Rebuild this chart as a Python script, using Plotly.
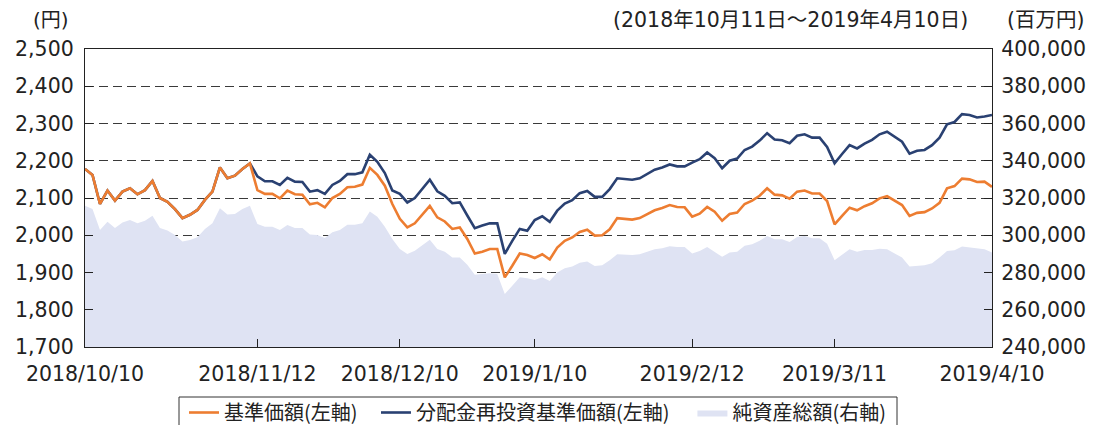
import pandas as pd
import plotly.graph_objects as go

# ---- data ----
holidays = ["2018-11-23", "2018-12-24", "2018-12-31", "2019-01-01", "2019-01-02",
            "2019-01-03", "2019-01-14", "2019-02-11", "2019-03-21"]
_days = pd.bdate_range("2018-10-10", "2019-04-10")
_days = [d for d in _days if d.strftime("%Y-%m-%d") not in holidays]
dates = [f"{d.year}/{d.month}/{d.day}" for d in _days]

tick_dates = ["2018/10/10", "2018/11/12", "2018/12/10", "2019/1/10",
              "2019/2/12", "2019/3/11", "2019/4/10"]

nav = [2178, 2162, 2084, 2120, 2093, 2117, 2126, 2110, 2121, 2146,
       2100, 2090, 2070, 2046, 2055, 2068, 2095, 2117, 2182, 2153,
       2160, 2178, 2193, 2121, 2111, 2111, 2099, 2120, 2110, 2109,
       2083, 2087, 2075, 2100, 2111, 2129, 2130, 2136, 2181, 2162,
       2133, 2084, 2044, 2021, 2032, 2055, 2079, 2048, 2037, 2017,
       2021, 1990, 1951, 1956, 1963, 1963, 1887, 1918, 1951, 1947,
       1939, 1949, 1935, 1967, 1985, 1994, 2009, 2015, 1999, 2000,
       2016, 2046, 2043, 2042, 2046, 2057, 2067, 2073, 2081, 2076,
       2075, 2050, 2058, 2076, 2063, 2039, 2057, 2061, 2084, 2093,
       2106, 2126, 2109, 2107, 2098, 2117, 2120, 2112, 2112, 2092,
       2029, 2052, 2074, 2067, 2078, 2086, 2099, 2105, 2092, 2081,
       2052, 2060, 2062, 2072, 2087, 2126, 2132, 2152, 2150, 2143,
       2144, 2130]

nav_reinvested = [2178, 2162, 2084, 2120, 2093, 2117, 2126, 2110, 2121, 2146,
                  2100, 2090, 2070, 2046, 2055, 2068, 2095, 2117, 2182, 2153,
                  2160, 2178, 2193, 2158, 2145, 2145, 2135, 2154, 2144, 2143,
                  2117, 2121, 2111, 2135, 2146, 2164, 2164, 2169, 2216, 2197,
                  2167, 2120, 2111, 2088, 2100, 2124, 2149, 2118, 2106, 2086,
                  2088, 2053, 2019, 2026, 2032, 2032, 1950, 1985, 2017, 2012,
                  2041, 2051, 2036, 2066, 2085, 2094, 2113, 2119, 2103, 2103,
                  2124, 2153, 2151, 2149, 2153, 2164, 2176, 2182, 2190, 2185,
                  2185, 2195, 2204, 2222, 2207, 2180, 2200, 2206, 2229, 2238,
                  2254, 2274, 2257, 2255, 2247, 2267, 2271, 2262, 2262, 2237,
                  2193, 2218, 2242, 2233, 2246, 2256, 2271, 2278, 2264, 2251,
                  2219, 2227, 2229, 2242, 2262, 2298, 2304, 2325, 2323, 2316,
                  2319, 2323]

net_assets = [315900, 314100, 302800, 307300, 303900, 306900, 308200, 306400, 307800, 310500,
              303900, 302500, 300100, 296600, 297400, 298900, 303400, 306400, 314500, 311100,
              311400, 314100, 315900, 306000, 304600, 304600, 302800, 305500, 303900, 303900,
              300400, 300200, 298500, 301600, 302800, 305700, 305700, 306400, 312700, 310000,
              304600, 298000, 292600, 289900, 291700, 294900, 297600, 292600, 291200, 288100,
              288100, 284200, 278800, 279200, 279600, 279200, 268500, 272900, 277400, 276900,
              276000, 277500, 275500, 280000, 282300, 283200, 285300, 285900, 283500, 283900,
              286600, 289800, 289400, 289400, 289800, 291200, 292500, 293000, 294100, 293700,
              293700, 290200, 291600, 293700, 291200, 288400, 290700, 291200, 294300, 295200,
              297000, 299600, 297900, 297900, 296400, 299100, 299600, 298400, 298400, 295500,
              286600, 289800, 292500, 291200, 292100, 292100, 292800, 292500, 290200, 288000,
              283200, 283500, 283900, 285000, 288000, 291600, 292000, 293900, 293400, 293000,
              292500, 290700]

names = ["基準価額(左軸)", "分配金再投資基準価額(左軸)", "純資産総額(右軸)"]
NB = "\u00a0"
legend_names = [names[0] + NB * 3, names[1] + NB * 4, names[2]]

# ---- figure ----
FONT = "DejaVu Sans, Noto Sans CJK JP, sans-serif"
TXT = "#222222"
OFF = 8                      # page body margin of the browser
W, H = 1094 - OFF, 425 - OFF
L, R, T, B = 77, 102, 41, 78
PW, PH = W - L - R, H - T - B


def sx(px):
    return (px - OFF - L) / PW


def sy(py):
    return (H - B - (py - OFF)) / PH


fig = go.Figure()
fig.add_trace(go.Scatter(x=dates, y=net_assets, name=legend_names[2], yaxis="y",
                         mode="lines", line=dict(width=0, color="#DFE3F3"),
                         fill="tozeroy", fillcolor="#DFE3F3", legendrank=3))
fig.add_trace(go.Scatter(x=dates, y=nav_reinvested, name=legend_names[1], yaxis="y2",
                         mode="lines", line=dict(width=2.6, color="#2A4172"), legendrank=2))
fig.add_trace(go.Scatter(x=dates, y=nav, name=legend_names[0], yaxis="y2",
                         mode="lines", line=dict(width=2.6, color="#ED7D31"), legendrank=1))

fig.update_layout(
    width=W, height=H,
    margin=dict(l=L, r=R, t=T, b=B, autoexpand=False),
    paper_bgcolor="white", plot_bgcolor="white",
    font=dict(family=FONT, size=20, color=TXT),
    showlegend=True,
    legend=dict(orientation="h", x=sx(184), xanchor="left", y=sy(393), yanchor="top",
                borderwidth=0, bgcolor="rgba(0,0,0,0)",
                font=dict(size=20, family="Noto Sans CJK JP, sans-serif"),
                traceorder="normal", itemwidth=30, tracegroupgap=0),
    xaxis=dict(type="category", categoryorder="array", categoryarray=dates,
               range=[0, len(dates) - 1], tickmode="array", tickvals=tick_dates,
               ticktext=tick_dates, ticks="inside", ticklen=8, tickcolor="#222",
               showline=True, linecolor="#222", linewidth=1.3, mirror=True,
               showgrid=False, tickfont=dict(size=20.5), ticklabelstandoff=8,
               automargin=False),
    yaxis=dict(side="right", range=[240000, 400000], dtick=20000, tickformat=",",
               ticks="inside", ticklen=8, tickcolor="#222", showline=True,
               linecolor="#222", linewidth=1.3, showgrid=True, gridcolor="#3a3a3a",
               gridwidth=1.3, griddash="9px,5px", zeroline=False, tickfont=dict(size=20.5),
               ticklabelstandoff=4, automargin=False),
    yaxis2=dict(side="left", overlaying="y", range=[1700, 2500], dtick=100, tickformat=",",
                ticks="inside", ticklen=8, tickcolor="#222", showline=True,
                linecolor="#222", linewidth=1.3, showgrid=False, zeroline=False,
                tickfont=dict(size=20.5), ticklabelstandoff=6, automargin=False),
    shapes=[dict(type="rect", xref="paper", yref="paper",
                 x0=sx(179), x1=sx(897), y0=sy(397), y1=sy(445),
                 line=dict(color="#333333", width=1), fillcolor="rgba(0,0,0,0)")],
    annotations=[
        dict(text="(円)", xref="paper", yref="paper", x=sx(51), y=sy(20),
             xanchor="center", yanchor="middle", showarrow=False, font=dict(size=20)),
        dict(text="(2018年10月11日～2019年4月10日)", xref="paper", yref="paper",
             x=sx(970), y=sy(20), xanchor="right", yanchor="middle",
             showarrow=False, font=dict(size=20.5)),
        dict(text="(百万円)", xref="paper", yref="paper",
             x=sx(1087), y=sy(20), xanchor="right", yanchor="middle",
             showarrow=False, font=dict(size=20.5)),
    ],
)

fig.write_html("out.html")
